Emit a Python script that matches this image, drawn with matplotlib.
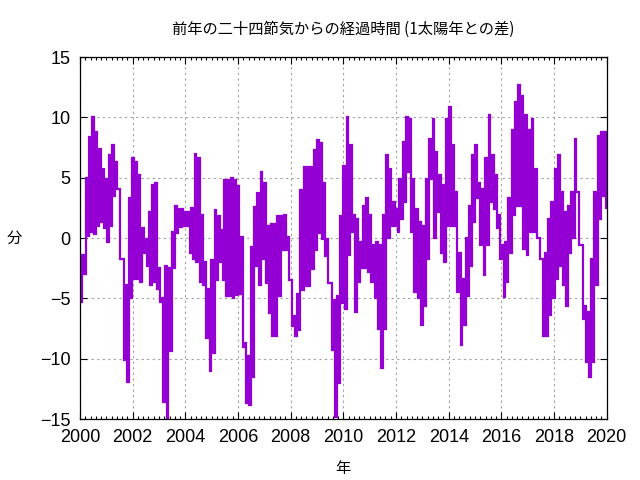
import numpy as np
import matplotlib
matplotlib.use("Agg")
import matplotlib.pyplot as plt
from matplotlib.ticker import MultipleLocator

# upper / lower ends of each stroke, 8 per year, 2000-2019 (minutes)
hi = [
    -3.4, -1.4, 5.0, 8.4, 10.0, 8.8, 7.4, 5.7,      # 2000
    4.9, 6.9, 7.7, 6.3, 4.1, -1.7, -3.9, 3.3,       # 2001
    6.6, 6.3, 5.2, 0.8, -0.1, 2.2, 4.4, 4.6,        # 2002
    -2.5, -5.0, -2.3, -2.5, 0.5, 2.7, 2.4, 2.4,     # 2003
    2.2, 2.2, 2.5, 7.0, 6.6, 1.9, -2.0, -4.2,       # 2004
    -1.8, 2.3, 1.8, 0.7, 4.8, 4.8, 5.0, 4.8,        # 2005
    4.3, 0.1, -8.7, -9.8, -0.7, 2.6, 3.7, 5.5,      # 2006
    4.6, 1.0, 1.2, 1.2, 1.8, 1.8, 1.9, 0.1,         # 2007
    -3.5, -6.5, -4.6, 4.0, 5.9, 5.9, 5.9, 7.3,      # 2008
    8.1, 7.9, 4.6, -0.1, -3.7, -5.1, -4.8, 1.8,     # 2009
    6.0, 10.0, 7.7, 1.9, 1.6, -0.3, 2.7, 3.3,       # 2010
    1.9, -0.6, -0.3, -0.6, 1.9, 6.9, 5.7, 3.0,      # 2011
    2.4, 4.9, 8.0, 10.0, 9.9, 4.9, 2.4, 1.3,        # 2012
    1.0, 4.9, 8.2, 9.9, 7.1, 5.2, 4.4, 9.9,         # 2013
    10.9, 7.7, 3.8, -1.2, -3.4, 0.0, 2.7, 6.9,      # 2014
    7.7, 4.6, 4.1, 6.6, 10.2, 6.9, 5.2, 1.9,        # 2015
    -0.6, -0.3, 3.3, 9.0, 11.3, 12.7, 11.8, 10.2,   # 2016
    9.0, 9.9, 5.7, 0.0, -1.7, -1.2, 1.6, 3.0,       # 2017
    5.7, 6.9, 3.8, 2.2, 2.7, 3.8, 8.2, 3.8,         # 2018
    -0.6, -5.6, -6.1, -1.7, 3.8, 8.5, 8.8, 8.8,     # 2019
]
lo = [
    -5.3, -3.0, 0.2, 0.5, 0.3, 1.0, 1.3, 0.8,
    -0.3, 1.0, 3.5, 4.1, -1.7, -10.1, -11.9, -5.0,
    -3.4, -3.4, -3.6, -1.2, -2.3, -3.9, -3.6, -4.2,
    -5.3, -13.6, -15.0, -9.4, -2.5, 0.4, 0.9, 1.0,
    1.0, -1.2, -1.7, -2.0, -3.6, -3.9, -8.3, -11.0,
    -9.5, -3.5, -2.0, -3.5, -4.8, -4.8, -5.0, -4.7,
    -4.6, -9.0, -13.7, -13.8, -11.5, -2.3, -3.9, -1.7,
    -3.7, -6.2, -8.1, -8.1, -4.8, -1.0, -1.0, -3.5,
    -7.3, -8.1, -7.6, -4.3, -4.0, -4.0, -2.6, -1.0,
    0.4, -0.1, -1.5, -3.7, -9.3, -14.8, -12.0, -5.4,
    -5.9, -1.4, 0.5, -6.1, -3.6, -2.5, -2.5, -2.8,
    -3.6, -5.0, -7.5, -10.8, -7.5, 0.0, 1.0, 1.0,
    0.5, 1.6, 3.0, 5.5, 0.5, -4.5, -5.0, -7.2,
    -5.6, -1.7, 4.9, 0.0, 2.2, -1.2, -2.0, 1.0,
    1.0, 1.0, -4.5, -8.9, -7.2, -4.8, -2.3, 1.3,
    3.3, -0.6, -3.1, -0.6, 3.0, 2.4, 0.8, -1.7,
    -4.9, -3.6, -1.2, 1.9, 2.7, 2.7, -0.9, -1.4,
    0.5, 0.5, 0.0, -1.7, -8.1, -8.1, -6.4, -5.0,
    -3.4, -2.3, -3.9, -5.6, -1.2, 0.0, 3.8, -0.6,
    -6.7, -10.3, -11.5, -10.3, -3.9, 1.6, 3.5, 2.5,
]

x_ticks = list(range(2000, 2021, 2))
y_ticks = [-15, -10, -5, 0, 5, 10, 15]

title = "前年の二十四節気からの経過時間 (1太陽年との差)"


def main():
    plt.rcParams['font.family'] = ['Liberation Sans', 'Noto Sans CJK JP']

    # zigzag between the two ends of every stroke
    values = np.ravel(np.column_stack([hi, lo]))
    years = np.linspace(2000, 2020, len(values))

    fig = plt.figure(figsize=(6.4, 4.8), dpi=100)
    ax = fig.add_axes([0.125, 0.127, 0.823, 0.754])

    ax.plot(years, values, color='#9400d3', lw=1.6, drawstyle='steps-mid',
            solid_joinstyle='miter')

    ax.set_xlim(2000, 2020)
    ax.set_ylim(-15, 15)
    ax.set_xticks(x_ticks)
    ax.set_yticks(y_ticks)
    ax.xaxis.set_minor_locator(MultipleLocator(0.2))

    ax.grid(True, which='major', color='#a0a0a0', lw=0.8,
            linestyle=(0, (2, 3)))
    ax.tick_params(which='both', direction='in', top=True, right=True,
                   labelsize=13, width=0.8)
    ax.tick_params(which='major', length=5, pad=7)
    ax.tick_params(which='minor', length=2.5)
    for s in ax.spines.values():
        s.set_linewidth(0.9)

    ax.set_title(title, fontsize=11, pad=17, family=['Noto Sans CJK JP'])
    ax.set_xlabel("年", fontsize=11, labelpad=10, family=['Noto Sans CJK JP'])
    ax.set_ylabel("分", fontsize=11, rotation=0, labelpad=18,
                  va='center', family=['Noto Sans CJK JP'])

    fig.savefig("out.png", dpi=100)


if __name__ == "__main__":
    main()
